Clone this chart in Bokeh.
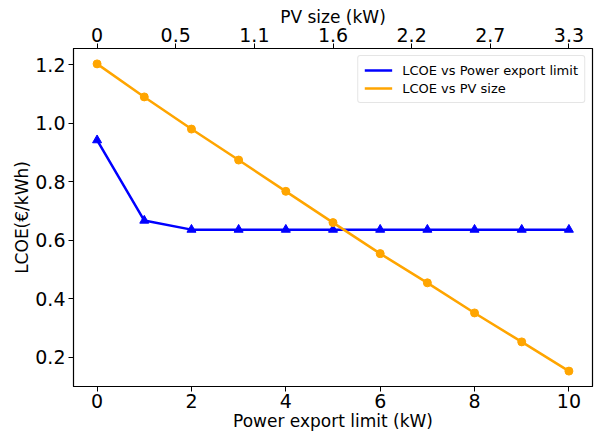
from bokeh.plotting import figure
from bokeh.models import (LinearAxis, FixedTicker, CustomJSTickFormatter, PrintfTickFormatter,
                          Legend, LegendItem, Range1d)
from bokeh.embed import file_html
from bokeh.resources import INLINE

# Data
export_limit = [0, 1, 2, 3, 4, 5, 6, 7, 8, 9, 10]
lcoe_export = [0.942, 0.667, 0.636, 0.636, 0.636, 0.636, 0.636, 0.636, 0.636, 0.636, 0.636]
lcoe_pv = [1.203, 1.090, 0.980, 0.874, 0.767, 0.660, 0.554, 0.454, 0.351, 0.252, 0.152]
pv_tick_pos = [0, 10 / 6, 20 / 6, 5, 40 / 6, 50 / 6, 10]
pv_tick_labels = ["0", "0.5", "1.1", "1.6", "2.2", "2.7", "3.3"]

FONT = "DejaVu Sans"
BLUE = "#0000ff"
ORANGE = "#ffa500"

p = figure(width=598, height=434, output_backend="svg", toolbar_location=None,
           x_range=Range1d(-0.5, 10.5), y_range=Range1d(0.0994, 1.2556),
           min_border_left=73, min_border_right=6, min_border_top=48, min_border_bottom=48)
p.grid.visible = False
p.outline_line_color = "black"
p.outline_line_width = 1.2
p.background_fill_color = "white"
p.border_fill_color = "white"

def style_axis(ax):
    ax.axis_line_color = "black"
    ax.major_tick_line_color = "black"
    ax.major_tick_out = 5
    ax.major_tick_in = 0
    ax.minor_tick_line_color = None
    ax.major_label_text_font = FONT
    ax.major_label_text_font_size = "19px"
    ax.major_label_text_color = "black"
    ax.axis_label_text_font = FONT
    ax.axis_label_text_font_size = "17px"
    ax.axis_label_text_font_style = "normal"
    ax.axis_label_text_color = "black"
    ax.major_label_standoff = 2
    ax.axis_label_standoff = 0

p.xaxis.axis_label = "Power export limit (kW)"
p.xaxis.ticker = FixedTicker(ticks=[0, 2, 4, 6, 8, 10])
p.yaxis.axis_label = "LCOE(€/kWh)"
p.yaxis.ticker = FixedTicker(ticks=[0.2, 0.4, 0.6, 0.8, 1.0, 1.2])
p.yaxis.formatter = PrintfTickFormatter(format="%.1f")
style_axis(p.xaxis[0])
style_axis(p.yaxis[0])
p.yaxis.major_label_standoff = 3
p.yaxis.axis_label_standoff = 0

top = LinearAxis(axis_label="PV size (kW)",
                 ticker=FixedTicker(ticks=pv_tick_pos),
                 formatter=CustomJSTickFormatter(args=dict(labels=pv_tick_labels),
                                                 code="return labels[index];"))
style_axis(top)
top.axis_label_standoff = -2
p.add_layout(top, "above")

l1 = p.line(export_limit, lcoe_export, line_color=BLUE, line_width=2.5)
p.scatter(export_limit, lcoe_export, marker="triangle", size=9, fill_color=BLUE, line_color=BLUE)
l2 = p.line(export_limit, lcoe_pv, line_color=ORANGE, line_width=2.5)
p.scatter(export_limit, lcoe_pv, marker="circle", size=8, fill_color=ORANGE, line_color=ORANGE)

legend = Legend(items=[LegendItem(label="LCOE vs Power export limit", renderers=[l1]),
                       LegendItem(label="LCOE vs PV size", renderers=[l2])],
                location="top_right")
legend.label_text_font = FONT
legend.label_text_font_size = "13px"
legend.label_text_color = "black"
legend.border_line_color = "#cccccc"
legend.border_line_width = 1
legend.border_radius = 3
legend.glyph_width = 28
legend.glyph_height = 16
legend.label_height = 16
legend.spacing = 2
legend.padding = 6
legend.margin = 7
legend.label_standoff = 10
p.add_layout(legend)

open("out.html", "w").write(file_html(p, INLINE))
